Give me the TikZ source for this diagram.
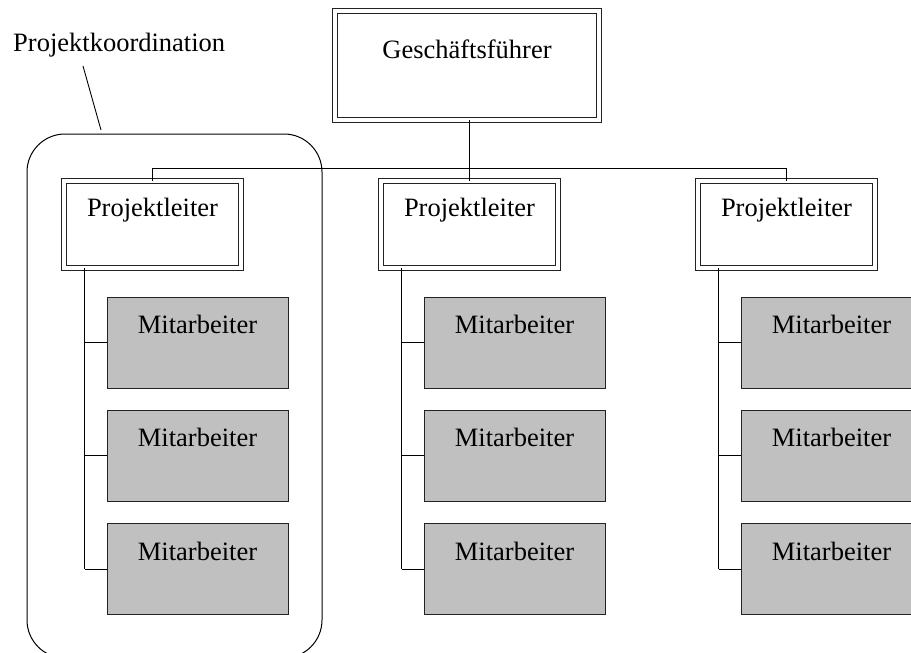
\documentclass[tikz,border=0pt]{standalone}
\usepackage{fontspec}
\setmainfont{Liberation Serif}
\usetikzlibrary{calc}
\definecolor{staffgrey}{HTML}{C0C0C0}
\definecolor{edge}{HTML}{222222}
\begin{document}
\begin{tikzpicture}[x=1pt,y=-1pt,
  every node/.style={font=\fontsize{26.5}{30}\selectfont},
  headbox/.style={draw=edge, line width=0.9pt, double=white, double distance=3.4pt,
    rectangle, inner sep=0pt, minimum width=#1},
  leadbox/.style={headbox=177pt, minimum height=87pt},
  topbox/.style={headbox=264pt, minimum height=109pt},
  staffbox/.style={draw=edge, line width=0.9pt, fill=staffgrey, rectangle,
    inner sep=0pt, minimum width=181pt, minimum height=91pt},
  caption/.style={anchor=base, inner sep=0pt},
  link/.style={line width=0.9pt},
  trunk/.style={line width=1.4pt},
  group/.style={draw, line width=1pt, rounded corners=38pt, rectangle,
    inner sep=0pt, minimum width=295pt, minimum height=524pt}
]
\clip (0,0) rectangle (911,653);

% project coordination group
\node[group] (grp) at (174.5,396) {};
\node[anchor=base west, inner sep=0pt] (grplbl) at (13,51) {Projektkoordination};
\coordinate (leadtop) at (83,66);
\coordinate (leadend) at (101,130);
\draw[line width=0.9pt] (leadtop) -- (leadend);

% managing director
\node[topbox] (gf) at (467,65.5) {};
\node[caption] (gftxt) at ($(gf.north)+(0,48)$) {Geschäftsführer};

% project leads
\foreach \i/\x in {1/152.5, 2/469.5, 3/786.5} {
  \node[leadbox] (pl\i) at (\x,224.5) {};
  \node[caption] (pltxt\i) at ($(pl\i.north)+(0,36)$) {Projektleiter};
  \coordinate (t\i) at ($(pl\i.south)+(-68,0)$);
  \foreach \j/\y in {1/342.5, 2/455.8, 3/569} {
    \node[staffbox] (m\i\j) at (\x+45,\y) {};
    \node[caption] (mtxt\i\j) at ($(m\i\j.north)+(0,37)$) {Mitarbeiter};
  }
}

% connectors
\coordinate (bus) at (469.5,168);
\draw[link] (gf.south -| pl2.north) -- (pl2.north);
\draw[link] (pl1.north) -- (pl1.north |- bus) -- (pl3.north |- bus) -- (pl3.north);
\foreach \i in {1,2,3} {
  \draw[trunk] (t\i) -- (t\i |- m\i3.west);
  \foreach \j in {1,2,3} {
    \draw[link] (t\i |- m\i\j.west) -- (m\i\j.west);
  }
}
\end{tikzpicture}
\end{document}
